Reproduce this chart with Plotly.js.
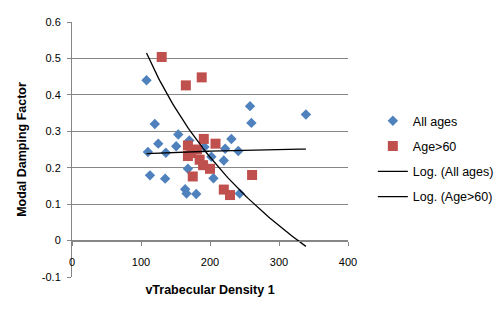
<!DOCTYPE html>
<html>
<head>
<meta charset="utf-8">
<script src="https://cdn.plot.ly/plotly-3.0.1.min.js"></script>
<style>html,body{margin:0;padding:0;background:#fff;}#chart{width:500px;height:309px;}</style>
</head>
<body>
<div id="chart"></div>
<script>
// "All ages" series (blue diamonds)
const allX = [108, 120, 125, 110, 113, 136, 135, 154, 151, 168, 164, 166, 180, 170, 192, 202, 205, 220, 222, 231, 241, 243, 258, 260, 339];
const allY = [0.440, 0.320, 0.266, 0.243, 0.179, 0.241, 0.170, 0.291, 0.259, 0.197, 0.141, 0.129, 0.128, 0.275, 0.257, 0.230, 0.171, 0.220, 0.252, 0.279, 0.246, 0.129, 0.369, 0.323, 0.346];
// "Age>60" series (red squares)
const olderX = [130, 165, 188, 191, 208, 168, 181, 168, 173, 185, 190, 200, 175, 220, 229, 261];
const olderY = [0.504, 0.426, 0.448, 0.279, 0.266, 0.261, 0.250, 0.232, 0.240, 0.222, 0.207, 0.197, 0.176, 0.140, 0.125, 0.180];

const seriesNames = ['All ages', 'Age>60', 'Log. (All ages)', 'Log. (Age>60)'];
const yTickVals = [-0.1, 0, 0.1, 0.2, 0.3, 0.4, 0.5, 0.6];
const yTickText = ['-0.1', '0', '0.1', '0.2', '0.3', '0.4', '0.5', '0.6'];
const xTickVals = [0, 100, 200, 300, 400];

function logFit(xs, ys) {
  const n = xs.length;
  const lx = xs.map(Math.log);
  const mx = lx.reduce((a, b) => a + b, 0) / n;
  const my = ys.reduce((a, b) => a + b, 0) / n;
  let sxy = 0, sxx = 0;
  for (let i = 0; i < n; i++) { sxy += (lx[i] - mx) * (ys[i] - my); sxx += (lx[i] - mx) * (lx[i] - mx); }
  const a = sxy / sxx;
  return { a: a, b: my - a * mx };
}
function trendPoints(fit, x0, x1) {
  const xs = [], ys = [];
  const steps = 80;
  for (let i = 0; i <= steps; i++) {
    const x = x0 + (x1 - x0) * i / steps;
    xs.push(x); ys.push(fit.a * Math.log(x) + fit.b);
  }
  return { x: xs, y: ys };
}
const xMin = Math.min.apply(null, allX), xMax = Math.max.apply(null, allX);
const tAll = trendPoints(logFit(allX, allY), xMin, xMax);
const tOld = trendPoints(logFit(olderX, olderY), xMin, xMax);

const FONT = 'Liberation Sans, Arial, sans-serif';
const GRID = '#868686';

const traces = [
  { x: allX, y: allY, name: seriesNames[0], type: 'scatter', mode: 'markers', legendgroup: 'a',
    marker: { symbol: 'diamond', size: 8, color: '#4F81BD' } },
  { x: olderX, y: olderY, name: seriesNames[1], type: 'scatter', mode: 'markers', legendgroup: 'b',
    marker: { symbol: 'square', size: 10, color: '#C0504D' } },
  { x: tAll.x, y: tAll.y, name: seriesNames[2], type: 'scatter', mode: 'lines', legendgroup: 'c',
    line: { color: '#000000', width: 1.3 } },
  { x: tOld.x, y: tOld.y, name: seriesNames[3], type: 'scatter', mode: 'lines', legendgroup: 'd',
    line: { color: '#000000', width: 1.3 } }
];

const layout = {
  width: 500, height: 309,
  margin: { l: 72, r: 152, t: 22, b: 32, pad: 0, autoexpand: false },
  paper_bgcolor: '#ffffff', plot_bgcolor: '#ffffff',
  font: { family: FONT, size: 11, color: '#000000' },
  showlegend: true,
  xaxis: {
    range: [0, 400], tickvals: xTickVals, anchor: 'free', position: 1 / 7,
    showline: true, linecolor: GRID, linewidth: 1,
    ticks: 'outside', ticklen: 4, tickcolor: GRID, tickwidth: 1,
    showgrid: false, zeroline: false, ticklabelstandoff: 7,
    tickfont: { family: FONT, size: 11, color: '#000' },
    title: { text: 'vTrabecular Density 1', font: { family: FONT, size: 12.5, weight: 'bold', color: '#000' }, standoff: 18 }
  },
  xaxis2: {
    range: [0, 400], overlaying: 'x', anchor: 'y', side: 'bottom',
    showline: true, mirror: true, linecolor: GRID, linewidth: 1,
    showticklabels: false, ticks: '', showgrid: false, zeroline: false
  },
  yaxis: {
    range: [-0.1, 0.6], tickvals: yTickVals, ticktext: yTickText,
    showline: true, linecolor: GRID, linewidth: 1,
    ticks: 'outside', ticklen: 4, tickcolor: GRID, tickwidth: 1,
    showgrid: true, gridcolor: GRID, gridwidth: 1,
    zeroline: true, zerolinecolor: GRID, zerolinewidth: 1, ticklabelstandoff: 4,
    tickfont: { family: FONT, size: 11, color: '#000' },
    title: { text: 'Modal Damping Factor', font: { family: FONT, size: 12.5, weight: 'bold', color: '#000' }, standoff: 12 }
  },
  legend: {
    x: 1.09, xanchor: 'left', y: 0.67, yanchor: 'top',
    traceorder: 'grouped', tracegroupgap: 6,
    font: { family: FONT, size: 12.5, color: '#000' },
    bgcolor: 'rgba(0,0,0,0)', borderwidth: 0
  }
};

Plotly.newPlot('chart', traces, layout, { displayModeBar: false, staticPlot: true });
</script>
</body>
</html>
